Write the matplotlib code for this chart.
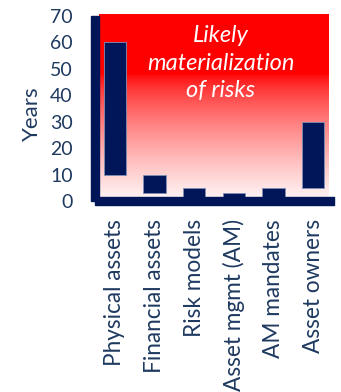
import numpy as np
import matplotlib
matplotlib.use("Agg")
import matplotlib.pyplot as plt
from matplotlib.patches import Rectangle

# Time horizons (years) per category: floating bars from low to high
categories = ["Physical assets", "Financial assets", "Risk models",
              "Asset mgmt (AM)", "AM mandates", "Asset owners"]
low_years = [10, 3, 0, 0, 0, 5]
high_years = [60, 10, 5, 3, 5, 30]
y_ticks = [0, 10, 20, 30, 40, 50, 60, 70]

NAVY = "#001658"
TEXT = "#1F3A60"
FONT = "Lato"

W, H = 341, 392
fig = plt.figure(figsize=(W / 100, H / 100), dpi=100)

# axes box in pixels (left, right, top, bottom)
L, R, T, B = 99, 329, 14, 201
ax = fig.add_axes([L / W, (H - B) / H, (R - L) / W, (B - T) / H])

ymin, ymax = 1.48, 70.74
xmin, xmax = -0.40, 5.40
ax.set_xlim(xmin, xmax)
ax.set_ylim(ymin, ymax)

# red-to-white vertical gradient background
t = np.linspace(0, 1, 400)
w = np.clip((t - 0.33) / 0.67, 0, None) ** 0.7 * 0.95
grad = np.ones((400, 1, 3))
grad[:, 0, 1] = w
grad[:, 0, 2] = w
ax.imshow(grad, extent=[xmin, xmax, ymin, ymax], aspect="auto",
          origin="upper", zorder=0)

# floating bars
x = np.arange(len(categories))
heights = [h - l for l, h in zip(low_years, high_years)]
ax.bar(x, heights, bottom=low_years, width=0.57, color=NAVY,
       edgecolor="#7F8FB5", linewidth=0.6, zorder=2, clip_on=False)

# heavy axis lines
px_per_cat = 39.7
px_per_year = 2.7
def dx(px):
    return px / px_per_cat
def dy(px):
    return px / px_per_year

ax.add_patch(Rectangle((xmin - dx(8), 0), dx(8), 70, color=NAVY,
                       clip_on=False, zorder=3))
ax.add_patch(Rectangle((xmin - dx(4), -dy(4)), dx(4 + 230 + 5), dy(8),
                       color=NAVY, clip_on=False, zorder=3))

for s in ax.spines.values():
    s.set_visible(False)

ax.set_yticks(y_ticks)
ax.set_yticklabels([str(v) for v in y_ticks], fontsize=14,
                   color=TEXT, fontfamily=FONT)
ax.tick_params(axis="y", length=0, pad=19)
ax.set_xticks(x)
ax.set_xticklabels(categories, rotation=90, fontsize=16.3, color=TEXT,
                   fontfamily=FONT, va="top", ha="center")
ax.tick_params(axis="x", length=0, pad=13)

ax.set_ylabel("Years", fontsize=16, color=TEXT, fontfamily=FONT,
              va="center")
ax.yaxis.set_label_coords(-0.291, 0.465)

for line, yv in zip(["Likely", "materialization", "of risks"],
                    [62.6, 52.1, 41.7]):
    ax.text(2.67, yv, line, color="white", fontsize=17, style="italic",
            fontfamily=FONT, ha="center", va="center", zorder=4)

fig.savefig("out.png", dpi=100)
